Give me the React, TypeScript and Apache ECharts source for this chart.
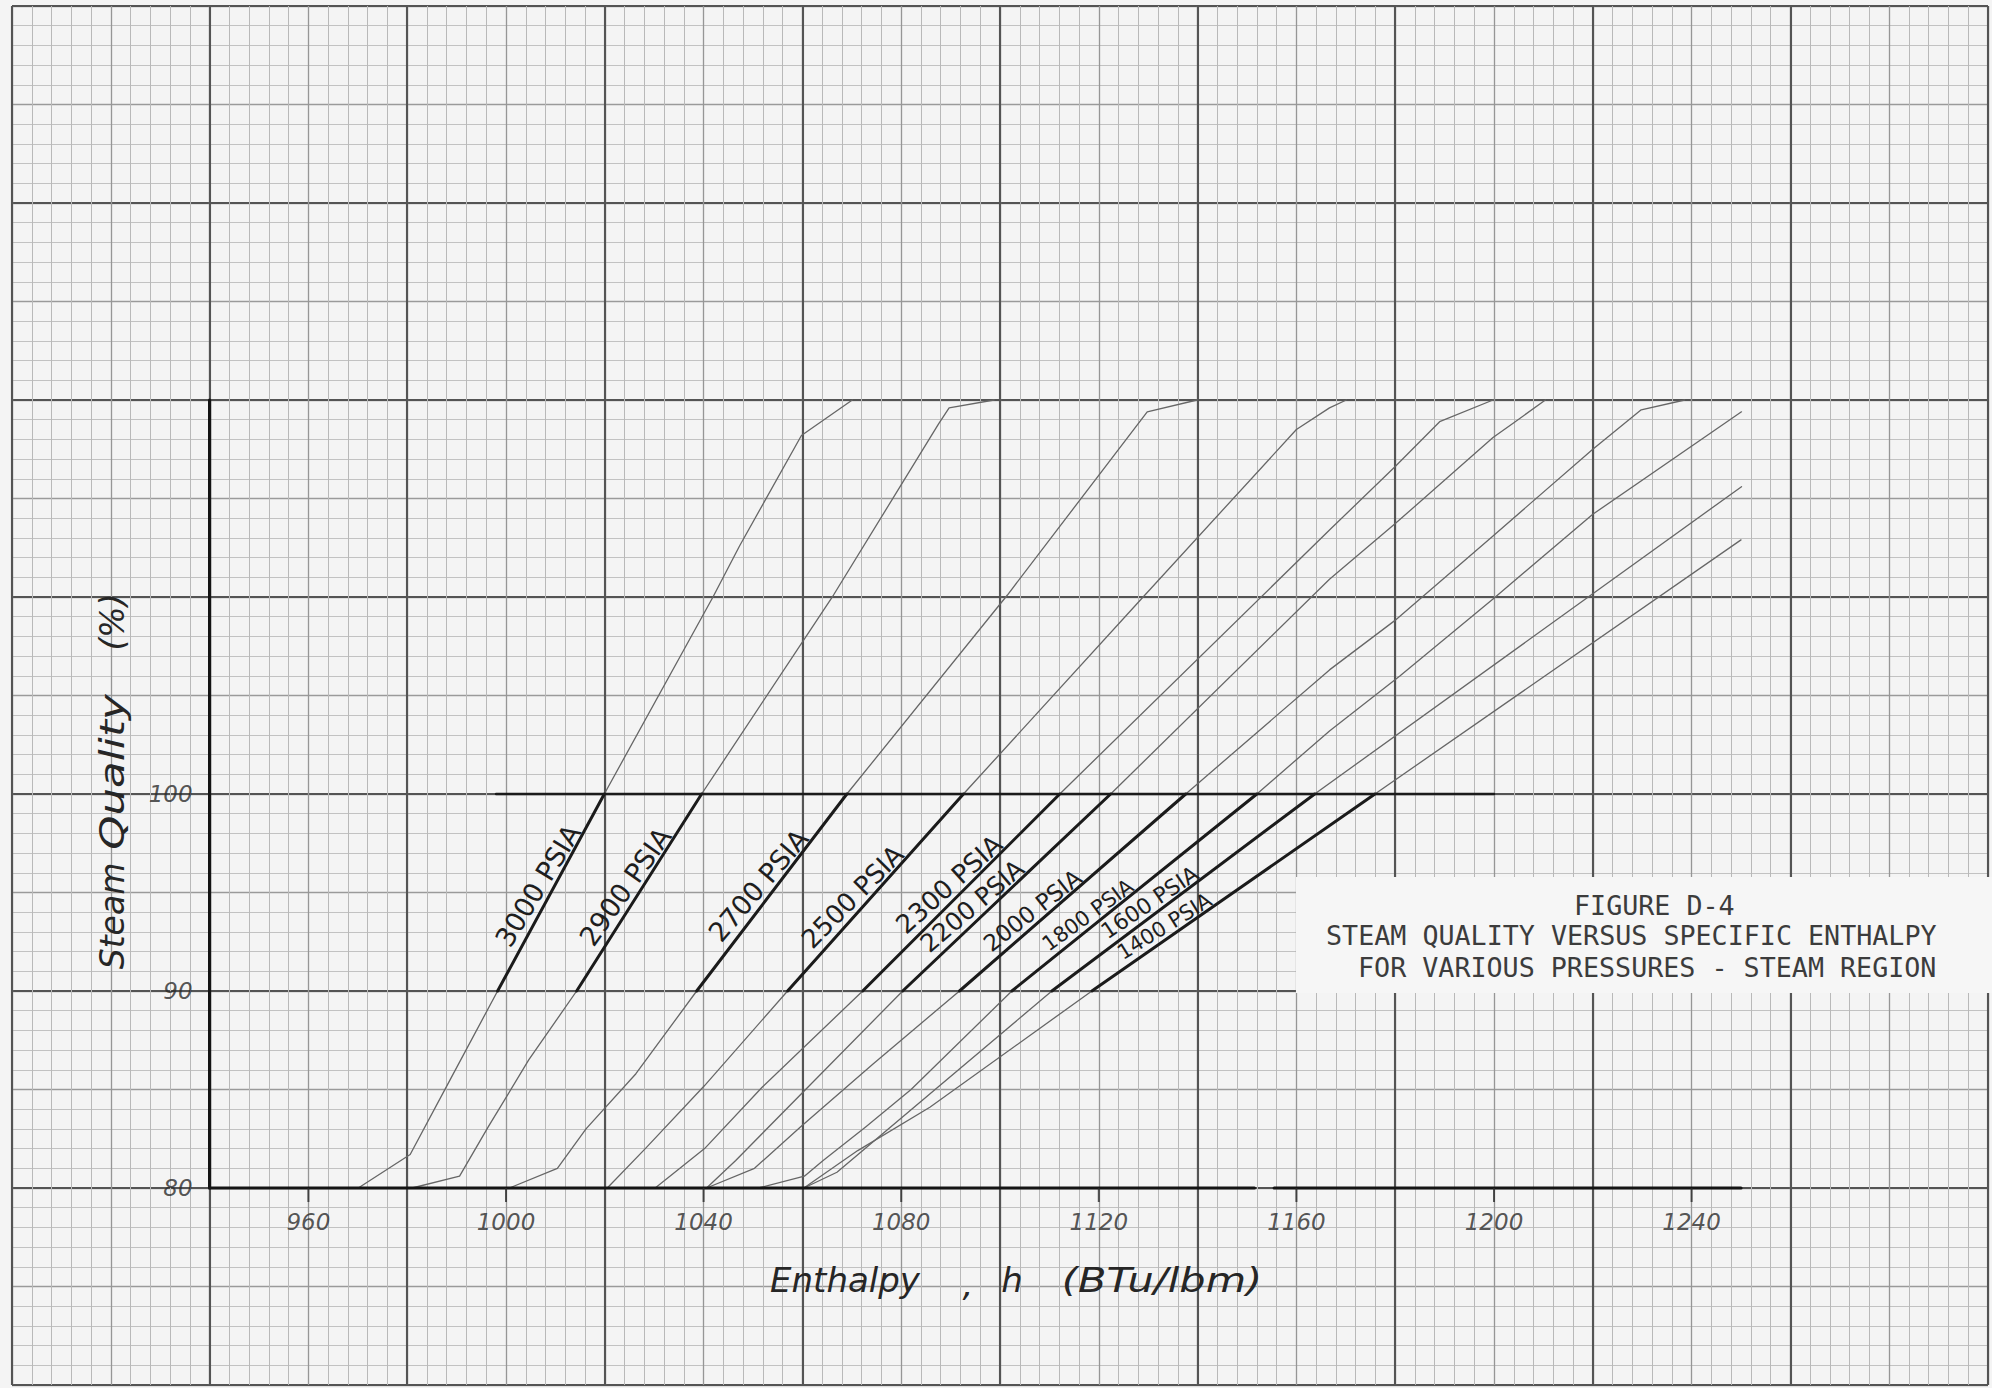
import React, { useEffect, useRef } from "react";
import * as echarts from "echarts";

const W = 1992;
const H = 1388;

// Graph-paper extent in data units (enthalpy Btu/lbm, quality %)
const X_MIN = 900;
const X_MAX = 1300;
const Y_MIN = 70;
const Y_MAX = 140;

const pressures = ["3000", "2900", "2700", "2500", "2300", "2200", "2000", "1800", "1600", "1400"];

// enthalpy at 90 % and 100 % quality (the heavy segment of each curve)
const h90 = [998.3, 1014.3, 1038.6, 1057.0, 1072.2, 1080.3, 1091.8, 1102.4, 1110.5, 1118.6];
const h100 = [1019.9, 1039.6, 1069.0, 1092.6, 1112.1, 1122.4, 1137.6, 1152.0, 1163.7, 1175.9];

// lower traces, 80 % up to the 90 % point
const lower3000 = [[970.1, 80], [980.6, 81.7], [988.7, 85.5]];
const lower2900 = [[981.0, 80], [990.6, 80.6], [996.4, 83.1], [1004.6, 86.5]];
const lower2700 = [[1000.7, 80], [1010.4, 81.0], [1016.2, 83.0], [1026.3, 85.8]];
const lower2500 = [[1020.5, 80], [1028.2, 82.0], [1040.2, 85.2]];
const lower2300 = [[1030.2, 80], [1040.2, 82.0], [1051.8, 85.1]];
const lower2200 = [[1040.6, 80], [1046.5, 81.4]];
const lower2000 = [[1040.6, 80], [1050.3, 81.0], [1059.6, 83.1], [1074.3, 86.3]];
const lower1800 = [[1051.1, 80], [1060.4, 80.6], [1064.2, 81.4], [1072.8, 83.1], [1082.0, 85.0]];
const lower1600 = [[1060.3, 80], [1067.0, 80.8]];
const lower1400 = [[1060.3, 80], [1071.2, 81.9], [1085.8, 84.1]];

// upper traces, beyond the 100 % point
const upper3000 = [[1041.9, 110], [1047.3, 112.6], [1059.8, 118.2], [1070.1, 120]];
const upper2900 = [[1066.3, 110.1], [1087.6, 118.8], [1089.7, 119.6], [1098.8, 120]];
const upper2700 = [[1101.5, 110.1], [1129.8, 119.4], [1139.9, 120]];
const upper2500 = [[1128.6, 109.9], [1160.0, 118.5], [1166.7, 119.6], [1170.1, 120]];
const upper2300 = [[1166.7, 113.4], [1179.9, 116.6], [1189.0, 118.9], [1199.8, 120]];
const upper2200 = [[1166.7, 110.9], [1179.9, 113.7], [1199.8, 118.1], [1204.3, 118.9], [1210.4, 120]];
const upper2000 = [[1166.7, 106.3], [1179.9, 108.8], [1199.8, 113.1], [1220.0, 117.5], [1229.8, 119.5], [1238.6, 120]];
const upper1800 = [[1166.7, 103.2], [1181.0, 106.0], [1199.8, 109.9], [1220.0, 114.2], [1250.1, 119.4]];
const upper1600 = [[1250.1, 115.6]];
const upper1400 = [[1250.0, 112.9]];

const lowers = [lower3000, lower2900, lower2700, lower2500, lower2300, lower2200, lower2000, lower1800, lower1600, lower1400];
const uppers = [upper3000, upper2900, upper2700, upper2500, upper2300, upper2200, upper2000, upper1800, upper1600, upper1400];

// quality at which each pressure label sits along its heavy segment
const labelQuality = [95.0, 94.9, 94.9, 94.3, 94.9, 93.8, 93.6, 93.4, 94.0, 92.8];
const labelFont = [27, 27, 27, 26, 26, 25, 23, 21, 22, 21];

const xTickValues = [960, 1000, 1040, 1080, 1120, 1160, 1200, 1240];
const yTickValues = [80, 90, 100];

const HAND = "'DejaVu Sans', 'Noto Sans', sans-serif";
const TYPE = "'DejaVu Sans Mono', 'Liberation Mono', monospace";

function seg(data: number[][], width: number, color: string) {
  return {
    type: "line",
    data,
    showSymbol: false,
    symbol: "none",
    silent: true,
    lineStyle: { width, color, cap: "round", join: "round" },
    z: 5,
  };
}

export default function App() {
  const ref = useRef<HTMLDivElement>(null);

  useEffect(() => {
    document.body.style.margin = "0";
    const chart = echarts.init(ref.current!, null, { renderer: "svg" });

    const series: any[] = [];
    pressures.forEach((_, i) => {
      const full = [...lowers[i], [h90[i], 90], [h100[i], 100], ...uppers[i]];
      series.push(seg(full, 1.3, "#666666"));
    });
    pressures.forEach((_, i) => {
      series.push(seg([[h90[i], 90], [h100[i], 100]], 3, "#1b1b1b"));
    });

    // heavy plotted axes and the 100 % reference line
    series.push(seg([[940, 80], [940, 120]], 3.2, "#141414"));
    series.push(seg([[940, 80], [1151.5, 80]], 3.2, "#141414"));
    series.push(seg([[1155.5, 80], [1250, 80]], 3.2, "#141414"));
    series.push(seg([[998, 100], [1200, 100]], 2.6, "#1b1b1b"));

    // x ticks hanging below the 80 % line, with their values
    series.push({
      type: "scatter",
      silent: true,
      data: xTickValues.map((v) => [v, 80]),
      symbol: "rect",
      symbolSize: [2, 14],
      symbolOffset: [0, 7],
      itemStyle: { color: "#2a2a2a" },
      label: {
        show: true,
        position: "bottom",
        distance: 8,
        formatter: (p: any) => String(p.value[0]),
        fontFamily: HAND,
        fontStyle: "italic",
        fontSize: 23,
        color: "#2a2a2a",
      },
      z: 6,
    });

    // y values left of the vertical axis
    series.push({
      type: "scatter",
      silent: true,
      data: yTickValues.map((v) => [940, v]),
      symbolSize: 0,
      label: {
        show: true,
        position: "left",
        distance: 17,
        formatter: (p: any) => String(p.value[1]),
        fontFamily: HAND,
        fontStyle: "italic",
        fontSize: 23,
        color: "#2a2a2a",
      },
      z: 6,
    });

    const hidden = { show: false };
    chart.setOption({
      animation: false,
      backgroundColor: "#f4f4f4",
      grid: { left: 12, top: 6, width: 1976, height: 1379, containLabel: false },
      xAxis: [
        {
          type: "value",
          min: X_MIN,
          max: X_MAX,
          interval: 20,
          axisLine: hidden,
          axisTick: hidden,
          axisLabel: hidden,
          splitLine: { show: true, lineStyle: { color: "#969696", width: 1.3 } },
          minorTick: { show: false, splitNumber: 5 },
          minorSplitLine: { show: true, lineStyle: { color: "#b9b9b9", width: 1 } },
        },
        {
          type: "value",
          position: "top",
          min: X_MIN,
          max: X_MAX,
          interval: 40,
          axisLine: hidden,
          axisTick: hidden,
          axisLabel: hidden,
          splitLine: { show: true, lineStyle: { color: "#545454", width: 2.1 } },
        },
      ],
      yAxis: [
        {
          type: "value",
          min: Y_MIN,
          max: Y_MAX,
          interval: 5,
          axisLine: hidden,
          axisTick: hidden,
          axisLabel: hidden,
          splitLine: { show: true, lineStyle: { color: "#9a9a9a", width: 1.3 } },
          minorTick: { show: false, splitNumber: 5 },
          minorSplitLine: { show: true, lineStyle: { color: "#c2c2c2", width: 1 } },
        },
        {
          type: "value",
          position: "right",
          min: Y_MIN,
          max: Y_MAX,
          interval: 10,
          axisLine: hidden,
          axisTick: hidden,
          axisLabel: hidden,
          splitLine: { show: true, lineStyle: { color: "#545454", width: 2.1 } },
        },
      ],
      series,
    });

    // pressure labels laid along each heavy segment
    const graphics: any[] = [];
    pressures.forEach((p, i) => {
      const a = chart.convertToPixel({ xAxisIndex: 0, yAxisIndex: 0 }, [h90[i], 90]) as number[];
      const b = chart.convertToPixel({ xAxisIndex: 0, yAxisIndex: 0 }, [h100[i], 100]) as number[];
      const ang = Math.atan2(a[1] - b[1], b[0] - a[0]);
      const t = (labelQuality[i] - 90) / 10;
      const px = a[0] + t * (b[0] - a[0]);
      const py = a[1] + t * (b[1] - a[1]);
      const off = labelFont[i] * 0.55;
      graphics.push({
        type: "text",
        x: px - off * Math.sin(ang),
        y: py - off * Math.cos(ang),
        rotation: ang - (3 * Math.PI) / 180,
        silent: true,
        z: 10,
        style: {
          text: `${p} PSIA`,
          fontFamily: HAND,
          fontSize: labelFont[i],
          fill: "#1e1e1e",
          align: "center",
          verticalAlign: "middle",
        },
      });
    });

    // axis titles
    const hand = (text: string, x: number, y: number, size: number, extra: any = {}) => ({
      type: "text",
      x,
      y,
      silent: true,
      z: 10,
      ...extra,
      style: {
        text,
        fontFamily: HAND,
        fontStyle: "italic",
        fontSize: size,
        fill: "#262626",
        align: "center",
        verticalAlign: "middle",
      },
    });
    graphics.push(hand("Enthalpy", 845, 1280, 34));
    graphics.push(hand(",", 968, 1284, 34));
    graphics.push(hand("h", 1012, 1280, 34));
    graphics.push(hand("(BTu/lbm)", 1162, 1280, 34, { scaleX: 1.22 }));
    graphics.push(hand("Steam", 112, 916, 33, { rotation: Math.PI / 2 }));
    graphics.push(hand("Quality", 112, 772, 34, { rotation: Math.PI / 2, scaleX: 1.28 }));
    graphics.push(hand("(%)", 112, 622, 33, { rotation: Math.PI / 2 }));

    // figure caption block
    graphics.push({
      type: "rect",
      silent: true,
      z: 8,
      shape: { x: 1296, y: 877, width: 696, height: 116 },
      style: { fill: "#f6f6f6" },
    });
    const capLine = (text: string, x: number, y: number) => ({
      type: "text",
      x,
      y,
      silent: true,
      z: 9,
      style: {
        text,
        fontFamily: TYPE,
        fontSize: 26.7,
        fill: "#3c3c3c",
        align: "left",
        verticalAlign: "middle",
      },
    });
    graphics.push(capLine("FIGURE D-4", 1574, 905));
    graphics.push(capLine("STEAM QUALITY VERSUS SPECIFIC ENTHALPY", 1326, 935));
    graphics.push(capLine("FOR VARIOUS PRESSURES - STEAM REGION", 1358, 967));

    chart.setOption({ graphic: graphics });

    return () => chart.dispose();
  }, []);

  return <div ref={ref} style={{ width: W, height: H }} />;
}
